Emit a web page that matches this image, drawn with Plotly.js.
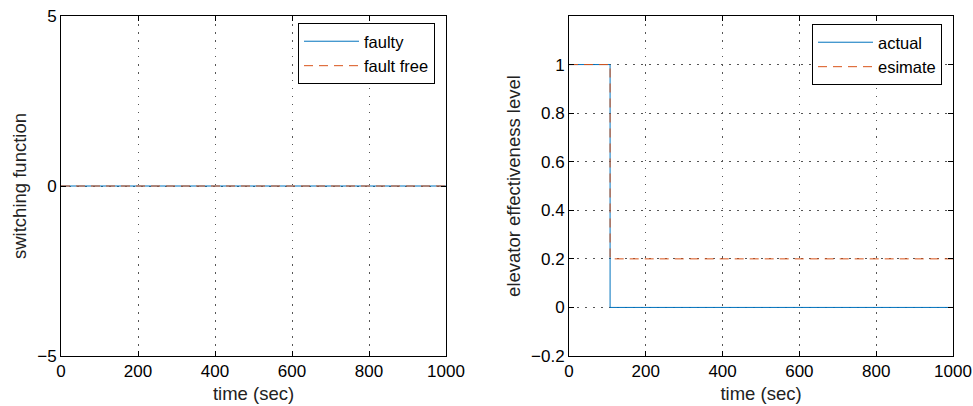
<!DOCTYPE html>
<html>
<head>
<meta charset="utf-8">
<script src="https://cdn.plot.ly/plotly-3.0.1.min.js"></script>
<style>
  html, body { margin: 0; padding: 0; background: #fff; }
  #chart { width: 973px; height: 406px; }
</style>
</head>
<body>
<div id="chart"></div>
<script>
// Left panel: switching function of the faulty and fault-free systems
const timeSwitch = [0, 1000];
const switchFaulty = [0, 0];
const switchFaultFree = [0, 0];

// Right panel: elevator effectiveness level, actual vs. estimate (step at t = 107 s)
const timeElevator = [0, 107, 107, 1000];
const elevatorActual = [1, 1, 0, 0];
const elevatorEstimate = [1, 1, 0.2, 0.2];

const xTicks = [0, 200, 400, 600, 800, 1000];
const leftYTicks = [-5, 0, 5];
const leftYTickText = ['\u22125', '0', '5'];
const rightYTicks = [-0.2, 0, 0.2, 0.4, 0.6, 0.8, 1];
const rightYTickText = ['\u22120.2', '0', '0.2', '0.4', '0.6', '0.8', '1'];

const BLUE = '#0072BD';
const ORANGE = '#D95319';
const FONT = 'Liberation Sans, Arial, Helvetica, sans-serif';

const traces = [
  { x: timeSwitch, y: switchFaulty, name: 'faulty', mode: 'lines',
    line: { color: BLUE, width: 1 }, xaxis: 'x', yaxis: 'y', legend: 'legend' },
  { x: timeSwitch, y: switchFaultFree, name: 'fault free', mode: 'lines',
    line: { color: ORANGE, width: 1, dash: '9px,6px' }, xaxis: 'x', yaxis: 'y', legend: 'legend' },
  { x: timeElevator, y: elevatorActual, name: 'actual', mode: 'lines',
    line: { color: BLUE, width: 1 }, xaxis: 'x2', yaxis: 'y2', legend: 'legend2' },
  { x: timeElevator, y: elevatorEstimate, name: 'esimate', mode: 'lines',
    line: { color: ORANGE, width: 1, dash: '9px,6px' }, xaxis: 'x2', yaxis: 'y2', legend: 'legend2' }
];

const W = 973, H = 406, T = 16, B = 50;
const PH = H - T - B;

const GRID = { showgrid: true, gridcolor: '#555', griddash: '1.5px,6.5px', gridwidth: 1 };

function xAxis(domain) {
  return Object.assign({
    domain: domain, range: [0, 1000], tickvals: xTicks, ticks: 'inside', ticklen: 5,
    tickcolor: '#000', showline: true, linecolor: '#000', linewidth: 1, mirror: 'ticks',
    zeroline: false,
    title: { text: 'time (sec)', font: { size: 18.5, color: '#222' }, standoff: 6 },
    tickfont: { size: 17, color: '#000' }, fixedrange: true
  }, GRID);
}
function yAxis(anchor, range, vals, text, title) {
  return Object.assign({
    anchor: anchor, domain: [0, 1], range: range, tickvals: vals, ticktext: text,
    ticks: 'inside', ticklen: 5,
    tickcolor: '#000', showline: true, linecolor: '#000', linewidth: 1, mirror: 'ticks',
    zeroline: false,
    title: { text: title, font: { size: 18.5, color: '#222' }, standoff: 5 },
    tickfont: { size: 17, color: '#000' }, fixedrange: true
  }, GRID);
}

function legendBox(x, yTop) {
  return {
    x: x / W, y: (H - B - yTop) / PH, xanchor: 'left', yanchor: 'top',
    bgcolor: '#fff', bordercolor: '#000', borderwidth: 1,
    font: { size: 16.5, color: '#000' }, tracegroupgap: 0, itemwidth: 55
  };
}

const layout = {
  width: W, height: H,
  margin: { l: 0, r: 0, t: T, b: B },
  paper_bgcolor: '#fff', plot_bgcolor: '#fff',
  font: { family: FONT, size: 16, color: '#000' },
  showlegend: true,
  xaxis: xAxis([61 / W, 446 / W]),
  yaxis: yAxis('x', [-5, 5], leftYTicks, leftYTickText, 'switching function'),
  xaxis2: Object.assign(xAxis([569 / W, 953 / W]), { anchor: 'y2' }),
  yaxis2: yAxis('x2', [-0.2, 1.2], rightYTicks, rightYTickText, 'elevator effectiveness level'),
  legend: legendBox(298, 23),
  legend2: legendBox(812, 24)
};

Plotly.newPlot('chart', traces, layout, { displayModeBar: false, staticPlot: true });
</script>
</body>
</html>
